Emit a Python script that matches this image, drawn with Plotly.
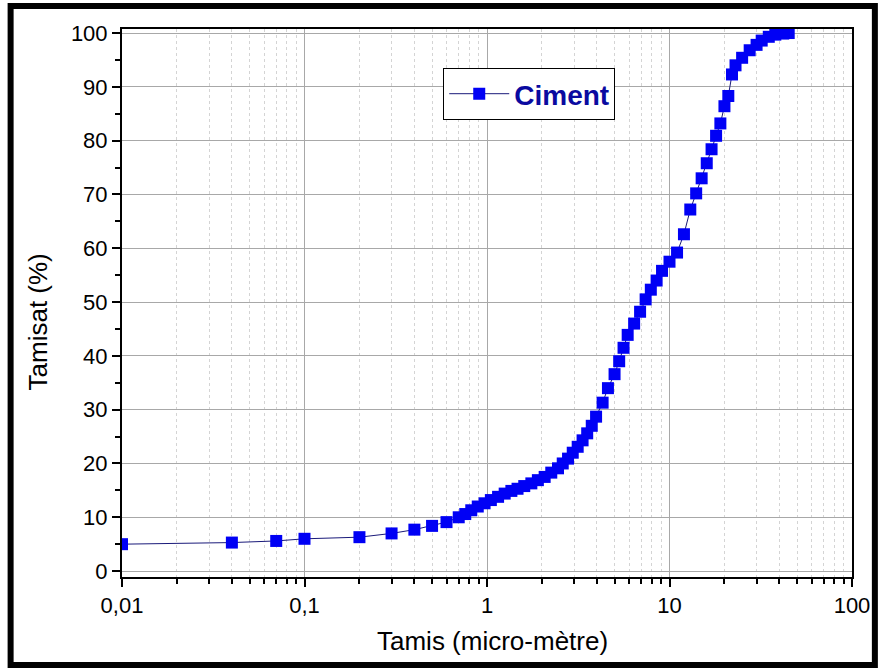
import plotly.graph_objects as go

# Data (particle size in micrometres, cumulative passing %)
tamis_um = [0.01, 0.04, 0.07, 0.1, 0.2, 0.3, 0.4, 0.5, 0.6, 0.7,
            0.76, 0.82, 0.89, 0.97, 1.05, 1.15, 1.25, 1.36, 1.47, 1.6,
            1.75, 1.9, 2.07, 2.25, 2.45, 2.6, 2.78, 2.95, 3.14, 3.34,
            3.54, 3.75, 3.96, 4.3, 4.6, 5.0, 5.3, 5.6, 5.9, 6.4,
            6.9, 7.4, 7.9, 8.5, 9.1, 10, 11, 12, 13, 14,
            15, 16, 17, 18, 19, 20, 21, 22, 23, 25,
            27.5, 30, 32, 35, 38, 42, 45]
tamisat_pct = [5.0, 5.3, 5.6, 6.0, 6.3, 7.0, 7.7, 8.4, 9.1, 10.0,
               10.6, 11.3, 12.0, 12.6, 13.2, 13.8, 14.4, 14.9, 15.3, 15.8,
               16.3, 16.9, 17.5, 18.3, 19.1, 20.0, 20.9, 22.0, 23.1, 24.3,
               25.6, 27.0, 28.7, 31.3, 34.0, 36.6, 39.0, 41.5, 43.9, 46.0,
               48.2, 50.5, 52.3, 54.0, 55.8, 57.5, 59.2, 62.6, 67.2, 70.2,
               73.0, 75.8, 78.4, 80.9, 83.2, 86.4, 88.3, 92.3, 94.0, 95.4,
               96.8, 97.8, 98.6, 99.3, 99.7, 99.9, 100.0]

x_tick_vals = [0.01, 0.1, 1, 10, 100]
x_tick_text = ["0,01", "0,1", "1", "10", "100"]
y_tick_vals = [0, 10, 20, 30, 40, 50, 60, 70, 80, 90, 100]
series_name = "Ciment"
x_title = "Tamis (micro-mètre)"
y_title = "Tamisat (%)"

FONT = "Arial, 'Liberation Sans', sans-serif"

minor_x = [m * d for d in (0.01, 0.1, 1, 10) for m in range(2, 10)]

fig = go.Figure()
fig.add_trace(go.Scatter(
    x=tamis_um, y=tamisat_pct, name=series_name, mode="lines+markers",
    line=dict(color="#1a1a7a", width=1),
    marker=dict(symbol="square", size=12, color="#0000f5", line=dict(width=0)),
))

fig.update_layout(
    width=882, height=672,
    margin=dict(l=122, r=26, t=29, b=95),
    paper_bgcolor="white", plot_bgcolor="white",
    font=dict(family=FONT, color="black"),
    separators=", ",
    showlegend=True,
    legend=dict(
        x=(445 - 122) / 734, y=(577 - 68) / 548, xanchor="left", yanchor="top",
        bgcolor="white", bordercolor="black", borderwidth=1,
        font=dict(family=FONT, size=28, color="#0a0aa0", weight="bold"),
        itemwidth=60,
    ),
    xaxis=dict(
        type="log", range=[-2, 2],
        tickvals=x_tick_vals, ticktext=x_tick_text,
        tickfont=dict(size=22, family=FONT, color="black"),
        ticks="outside", ticklen=8, tickwidth=2, tickcolor="black",
        showline=True, linewidth=2, linecolor="black", mirror=True,
        showgrid=True, gridcolor="#a8a8a8", gridwidth=1,
        minor=dict(tickvals=minor_x, ticks="outside", ticklen=5, tickwidth=2,
                   tickcolor="black", showgrid=True, gridcolor="#d4d4d4",
                   griddash="dot", gridwidth=1),
        zeroline=False,
    ),
    yaxis=dict(
        range=[-1.1, 100.75],
        tickvals=y_tick_vals,
        tickfont=dict(size=22, family=FONT, color="black"),
        ticks="outside", ticklen=8, tickwidth=2, tickcolor="black",
        showline=True, linewidth=2, linecolor="black", mirror=True,
        showgrid=True, gridcolor="#a8a8a8", gridwidth=1,
        minor=dict(dtick=5, ticks="outside", ticklen=5, tickwidth=2,
                   tickcolor="black", showgrid=False),
        zeroline=False,
    ),
    annotations=[
        dict(text=x_title, xref="paper", yref="paper",
             x=(495 - 122) / 734, y=(577 - 641) / 548,
             xanchor="center", yanchor="middle", showarrow=False,
             font=dict(size=26, family=FONT, color="black")),
        dict(text=y_title, xref="paper", yref="paper",
             x=(38 - 122) / 734, y=(577 - 322) / 548, textangle=-90,
             xanchor="center", yanchor="middle", showarrow=False,
             font=dict(size=26, family=FONT, color="black")),
    ],
    shapes=[
        dict(type="rect", xref="paper", yref="paper",
             x0=(10 - 122) / 734, x1=(879 - 122) / 734,
             y0=(577 - 665) / 548, y1=(577 - 6) / 548,
             line=dict(color="black", width=6), fillcolor="rgba(0,0,0,0)",
             layer="above"),
    ],
)

fig.write_html("out.html")
